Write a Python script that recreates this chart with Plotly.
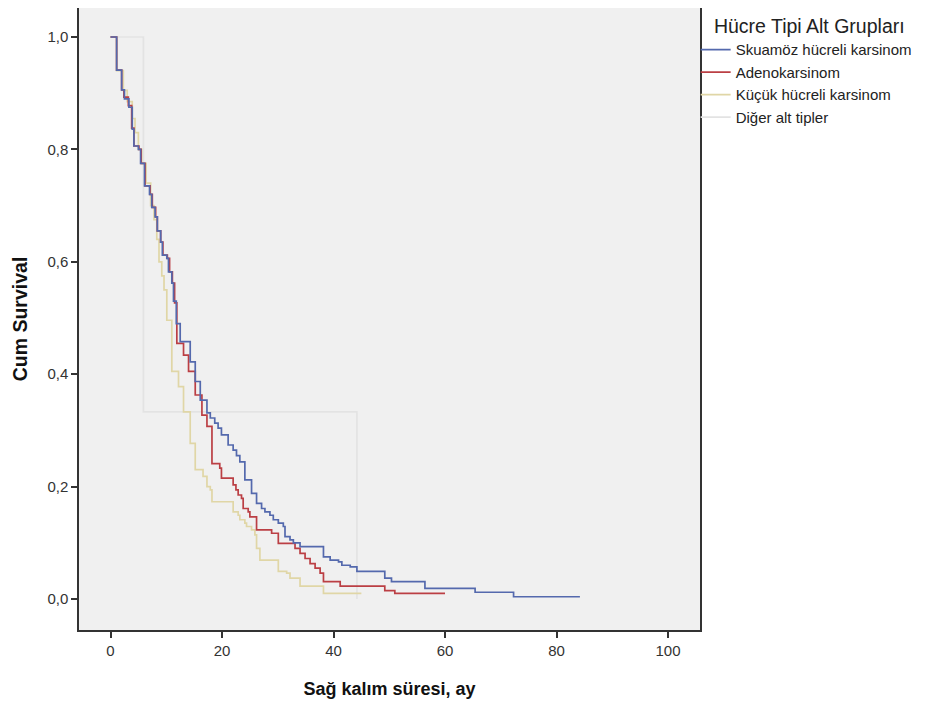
import plotly.graph_objects as go

# Kaplan-Meier step data (time in months, cumulative survival)
sq_t = [0, 1.1, 2.0, 2.5, 3.3, 3.9, 4.2, 5.0, 5.4, 6.1, 7.0, 7.4, 8.0, 8.4, 9.0, 9.3, 10.1, 10.4, 11.0,
        11.3, 11.8, 12.5, 14.3, 15.2, 16.1, 17.3, 17.9, 18.7, 19.3, 19.9, 21.1, 22.0, 22.6, 23.2, 24.1,
        25.3, 26.2, 27.1, 27.7, 28.6, 29.2, 30.1, 31.0, 31.3, 32.2, 32.8, 34.0, 38.2, 39.4, 40.9, 41.5,
        43.0, 44.2, 49.2, 50.4, 56.4, 65.4, 72.3, 84.2]
sq_s = [1.0, 0.941, 0.906, 0.89, 0.875, 0.836, 0.806, 0.800, 0.775, 0.735, 0.72, 0.697, 0.68, 0.655, 0.635,
        0.612, 0.606, 0.582, 0.562, 0.53, 0.49, 0.458, 0.422, 0.387, 0.354, 0.331, 0.322, 0.313, 0.304,
        0.292, 0.274, 0.265, 0.255, 0.244, 0.212, 0.188, 0.170, 0.161, 0.155, 0.149, 0.141, 0.135, 0.129,
        0.111, 0.105, 0.100, 0.093, 0.075, 0.069, 0.066, 0.060, 0.057, 0.049, 0.037, 0.031, 0.019, 0.012,
        0.004, 0.004]

ad_t = [0, 1.1, 2.0, 2.4, 3.2, 3.8, 4.2, 5.1, 5.5, 6.2, 7.1, 7.5, 8.1, 8.4, 9.0, 9.4, 10.2, 10.6, 11.1,
        11.5, 11.9, 13.1, 14.0, 15.2, 16.4, 17.3, 18.2, 19.6, 19.9, 22.0, 22.5, 22.9, 23.5, 23.8, 24.7,
        25.0, 26.2, 28.9, 30.1, 33.1, 34.0, 34.9, 35.8, 36.7, 37.6, 38.2, 41.2, 49.2, 51.0, 60.0]
ad_s = [1.0, 0.941, 0.906, 0.893, 0.878, 0.838, 0.806, 0.800, 0.775, 0.735, 0.72, 0.697, 0.68, 0.655, 0.635,
        0.612, 0.606, 0.582, 0.562, 0.527, 0.455, 0.434, 0.405, 0.363, 0.327, 0.307, 0.241, 0.233, 0.215,
        0.203, 0.194, 0.185, 0.179, 0.161, 0.155, 0.146, 0.123, 0.117, 0.099, 0.090, 0.081, 0.072, 0.063,
        0.055, 0.046, 0.031, 0.023, 0.015, 0.010, 0.010]

sc_t = [0, 1.1, 2.3, 3.0, 3.9, 4.4, 5.0, 5.6, 6.4, 7.2, 7.8, 8.3, 8.7, 9.2, 9.6, 10.1, 11.0, 12.2, 13.1,
        14.3, 15.2, 16.6, 17.3, 17.9, 18.2, 22.0, 22.9, 23.2, 24.1, 24.4, 25.3, 25.9, 26.2, 26.8, 30.1,
        31.6, 32.2, 34.0, 38.2, 45.0]
sc_s = [1.0, 0.94, 0.905, 0.885, 0.855, 0.83, 0.80, 0.775, 0.74, 0.70, 0.675, 0.64, 0.60, 0.575, 0.55,
        0.496, 0.405, 0.378, 0.333, 0.277, 0.230, 0.218, 0.200, 0.194, 0.173, 0.155, 0.149, 0.141, 0.135,
        0.129, 0.123, 0.114, 0.090, 0.069, 0.049, 0.046, 0.037, 0.023, 0.010, 0.010]

ot_t = [0, 5.9, 44.2]
ot_s = [1.0, 0.333, 0.0]

group_names = ["Skuamöz hücreli karsinom", "Adenokarsinom", "Küçük hücreli karsinom", "Diğer alt tipler"]
x_ticks = [0, 20, 40, 60, 80, 100]
y_ticks = [0.0, 0.2, 0.4, 0.6, 0.8, 1.0]

series = [
    (sq_t, sq_s, "#5469ad"),
    (ad_t, ad_s, "#bb3f44"),
    (sc_t, sc_s, "#e0d6a6"),
    (ot_t, ot_s, "#e3e3e3"),
]

fig = go.Figure()
order = [3, 2, 1, 0]
for i in order:
    t, s, c = series[i]
    fig.add_trace(go.Scatter(
        x=t, y=s, mode="lines", line=dict(color=c, width=1.7, shape="hv"),
        name=group_names[i], legendrank=i + 1, hoverinfo="skip"))

fig.update_layout(
    width=920, height=698,
    margin=dict(l=71, r=228, t=0, b=76, autoexpand=False),
    paper_bgcolor="white", plot_bgcolor="#f0f0f0",
    separators=",.",
    font=dict(family="Liberation Sans, Arial, sans-serif", color="#222", size=15),
    showlegend=True,
    legend=dict(
        x=0.993, y=1.0, xanchor="left", yanchor="top",
        title=dict(text="\u00a0\u00a0\u00a0Hücre Tipi Alt Grupları", font=dict(size=19.5, color="#222")),
        font=dict(size=15, color="#222"),
        itemwidth=30, tracegroupgap=0,
        bgcolor="rgba(0,0,0,0)",
    ),
    xaxis=dict(
        range=[-5.65, 105.74], tickvals=x_ticks, ticktext=[str(v) for v in x_ticks],
        ticks="outside", ticklen=6, tickcolor="#333", tickwidth=1.5,
        showgrid=False, zeroline=False, automargin=False,
        showline=True, mirror=True, linecolor="#333", linewidth=1.5,
        tickfont=dict(size=15, color="#333"),
        title=dict(text="<b>Sağ kalım süresi, ay</b>", standoff=25,
                   font=dict(size=18, family="Liberation Sans Narrow, Liberation Sans, Arial", color="#111")),
    ),
    yaxis=dict(
        range=[-0.0552, 1.0516], tickvals=y_ticks, tickformat=".1f",
        ticks="outside", ticklen=6, tickcolor="#333", tickwidth=1.5,
        showgrid=False, zeroline=False, automargin=False,
        showline=True, mirror=True, linecolor="#333", linewidth=1.5,
        tickfont=dict(size=15, color="#333"),
        title=dict(text="<b>Cum Survival</b>",
                   font=dict(size=19.5, family="Liberation Sans Narrow, Liberation Sans, Arial", color="#111")),
    ),
)

fig.write_html("out.html")
